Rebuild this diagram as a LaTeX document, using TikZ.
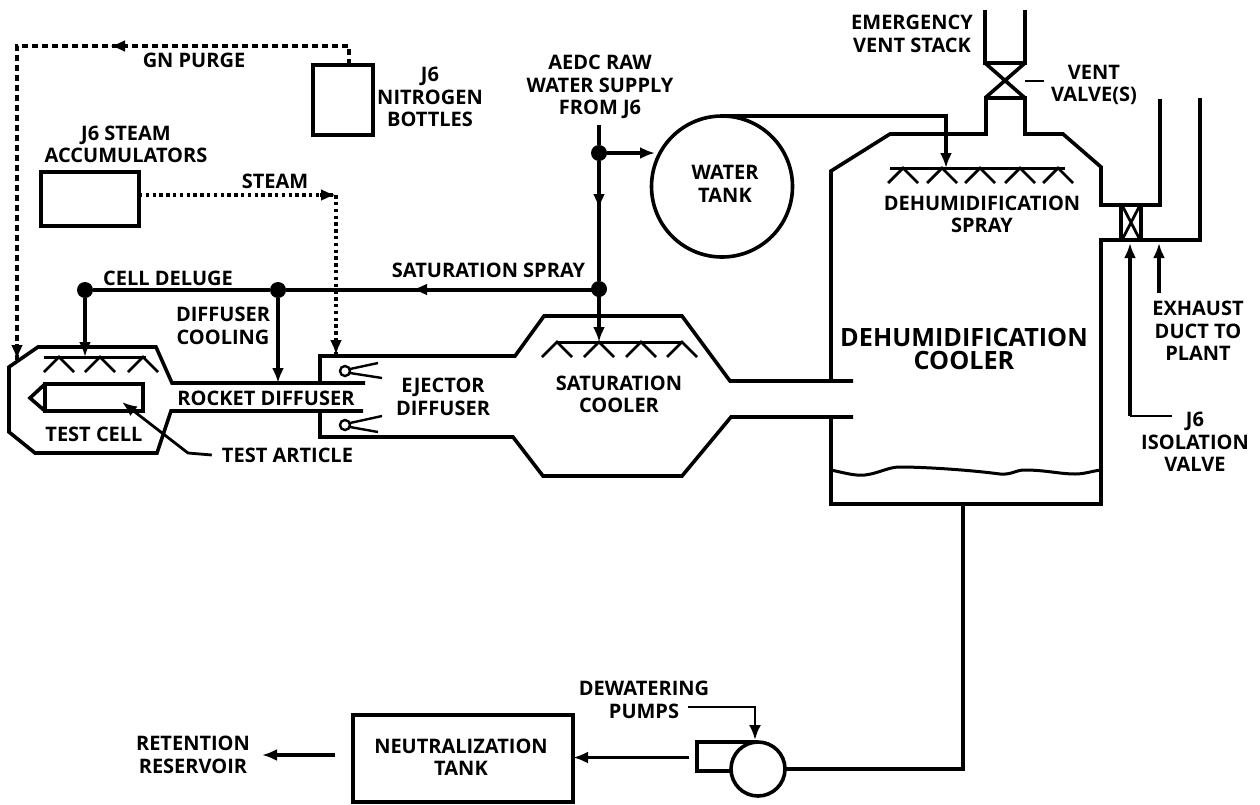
\documentclass[tikz,border=0pt]{standalone}
\usepackage{fontspec}
\setmainfont{Open Sans}
\usetikzlibrary{arrows.meta,calc}
\tikzset{
  x=1pt,y=-1pt,
  tip/.style={-{Latex[length=15pt,width=12pt]}},
  wall/.style={line width=3.6pt,line join=miter},
  flow/.style={line width=3.2pt,tip},
  plainflow/.style={line width=3.2pt},
  leader/.style={line width=2.8pt},
  purge/.style={line width=3.2pt,dash pattern=on 6pt off 4pt},
  steamline/.style={line width=3.4pt,dash pattern=on 3.4pt off 3.4pt},
  dot/.style={circle,fill=black,inner sep=0pt,minimum size=16pt},
  lab/.style={font=\fontsize{20}{22.5}\selectfont\bfseries,align=center,inner sep=0pt},
  biglab/.style={font=\fontsize{25.2}{23.5}\selectfont\bfseries,align=center,inner sep=0pt},
  nozzle/.style={line width=2.4pt},
  boxline/.style={draw,line width=3.4pt,inner sep=0pt,outer sep=0pt},
  bar/.style={line width=3pt},
}
\newcommand{\sprayhead}[2]{%
  \draw[line width=2.8pt] (#1-15,#2+15) -- (#1,#2) -- (#1+15,#2+15);}
\begin{document}
\begin{tikzpicture}
\useasboundingbox (0,0) rectangle (1260,804);
% ---- labels
\node[lab] (gnpurge) at (194,60) {GN PURGE};
\node[lab] (nbottles) at (430,97) {J6\\NITROGEN\\BOTTLES};
\node[lab] (accum) at (126,144.5) {J6 STEAM\\ACCUMULATORS};
\node[lab] (steam) at (275,181) {STEAM};
\node[lab] (rawwater) at (600,87) {AEDC RAW\\WATER SUPPLY\\FROM J6};
\node[lab] (watertank) at (725,184) {WATER\\TANK};
\node[lab] (ventstack) at (912,34) {EMERGENCY\\VENT STACK};
\node[lab] (ventvalve) at (1094,85) {VENT\\VALVE(S)};
\node[lab] (dspray) at (982,214.5) {DEHUMIDIFICATION\\SPRAY};
\node[lab] (celldeluge) at (168,278) {CELL DELUGE};
\node[lab] (satspray) at (488.5,270) {SATURATION SPRAY};
\node[lab] (diffcool) at (223,326) {DIFFUSER\\COOLING};
\node[lab] (ejector) at (443,397) {EJECTOR\\DIFFUSER};
\node[lab] (satcooler) at (619,394.5) {SATURATION\\COOLER};
\node[biglab] (dcooler) at (964,349) {DEHUMIDIFICATION\\COOLER};
\node[lab] (exhaust) at (1198,331) {EXHAUST\\DUCT TO\\PLANT};
\node[lab] (isolation) at (1195,442) {J6\\ISOLATION\\VALVE};
\node[lab] (rocket) at (266,398) {ROCKET DIFFUSER};
\node[lab] (testcell) at (94,434) {TEST CELL};
\node[lab] (testarticle) at (287.5,455) {TEST ARTICLE};
\node[lab] (dewater) at (644,700) {DEWATERING\\PUMPS};
\node[lab] (neutral) at (461,757) {NEUTRALIZATION\\TANK};
\node[lab] (retention) at (193,755) {RETENTION\\RESERVOIR};
% ---- boxes
\node[boxline,minimum width=60pt,minimum height=70pt] (bottles) at (343,100) {};
\node[boxline,minimum width=98pt,minimum height=54pt] (accumbox) at (90,199) {};
\node[boxline,minimum width=220pt,minimum height=87pt] (ntank) at (463,758.5) {};
\node[boxline,circle,line width=3.6pt,minimum size=141pt] (tank) at (722,186.5) {};
\node[boxline,circle,line width=3.6pt,minimum size=54pt] (pump) at (758,769) {};
% ---- junctions
\node[dot] (jdeluge) at (85,290) {};
\node[dot] (jdiff) at (278,290) {};
\node[dot] (jsat) at (599,289) {};
\node[dot] (jwater) at (599,153) {};
% ---- named free ends
\coordinate (purgeTR) at (349,46);
\coordinate (purgeTL) at (17,46);
\coordinate (purgeEnd) at (17,360);
\coordinate (steamCorner) at (336,195);
\coordinate (steamEnd) at (336,355);
\coordinate (delugeEnd) at (85,357);
\coordinate (diffEnd) at (278,383);
\coordinate (satEnd) at (599,342);
\coordinate (waterTop) at (599,125);
\coordinate (waterIn) at (655,153);
\coordinate (dsCorner) at (946,117);
\coordinate (dsEnd) at (946,168);
% ---- GN purge
\draw[purge] (bottles.north -| purgeTR) -- (purgeTR) -- (purgeTL) -- (purgeEnd);
\draw[flow] (17,344) -- (purgeEnd);
\draw[flow] (126,46) -- (110,46);
% ---- steam
\draw[steamline] (accumbox.east |- steamCorner) -- (steamCorner) -- (steamEnd);
\draw[flow] (320,195) -- (steamCorner);
\draw[flow] (336,340) -- (steamEnd);
% ---- water lines
\draw[plainflow] (waterTop) -- (jwater);
\draw[plainflow] (jwater) -- (jsat);
\draw[flow] (599,192) -- (599,209);
\draw[flow] (jwater) -- (waterIn);
\draw[flow] (jsat) -- (satEnd);
\draw[plainflow] (jsat) |- (jdiff) -- (jdeluge);
\draw[flow] (430,289.5) -- (412,289.5);
\draw[flow] (jdeluge) -- (delugeEnd);
\draw[flow] (jdiff) -- (diffEnd);
\draw[flow] (tank.north) -- (tank.north -| dsCorner) -- (dsEnd);
% ---- test cell / rocket diffuser
\draw[wall] (365,383) -- (172,383) -- (156,347) -- (38,347) -- (9,367) -- (9,432) -- (35,453) -- (157,453) -- (171,411) -- (363,411);
\draw[wall] (45,384) rectangle (143,411);
\draw[wall] (45,384) -- (30,398) -- (45,411);
\draw[leader,tip] (testarticle.west) ++(-10,0) -- (188,453) -- (122,402);
\draw[bar] (44,357) -- (146,357);
\sprayhead{59}{357}\sprayhead{100}{357}\sprayhead{143}{357}
% ---- ejector + saturation cooler
\draw[wall] (320,383) -- (320,356) -- (515,356) -- (544,316) -- (682,316) -- (730,381) -- (853,381);
\draw[wall] (320,411) -- (320,437) -- (513,437) -- (543,476) -- (682,476) -- (731,417) -- (853,417);
\draw[nozzle] (345,371) circle (5);
\draw[nozzle] (350,369) -- (378,363) (350,373) -- (382,378);
\draw[nozzle] (345,425) circle (5);
\draw[nozzle] (350,423) -- (382,416) (350,427) -- (378,432);
\draw[bar] (556,342) -- (682,342);
\sprayhead{557}{342}\sprayhead{599}{342}\sprayhead{641}{342}\sprayhead{682}{342}
% ---- dehumidification cooler
\draw[wall] (831,381) -- (831,171) -- (890,134) -- (986,134) -- (986,98) -- (1025,98) -- (1025,134) -- (1063,134) -- (1101,167) -- (1101,205) -- (1160,205) -- (1160,99);
\draw[wall] (831,417) -- (831,504) -- (1101,504) -- (1101,240) -- (1200,240) -- (1200,98);
\draw[wall] (985,10) -- (985,63) -- (1025,63) -- (1025,10);
\draw[wall] (985,63) -- (1025,98) (1025,63) -- (985,98);
\draw[leader] (1025,81) -- (1044,81);
\draw[wall] (1121,205) rectangle (1141,240);
\draw[line width=2.8pt] (1123,207) -- (1139,238) (1139,207) -- (1123,238);
\draw[bar] (890,168) -- (1065,168);
\foreach \a in {903,942,980,1020,1058}{\sprayhead{\a}{168}}
\draw[line width=3pt] (831,470) .. controls (845,473) and (855,476) .. (865,475) .. controls (880,473) and (888,467) .. (900,467) .. controls (925,467) and (970,470) .. (1000,474) .. controls (1012,475) and (1015,470) .. (1025,470) .. controls (1045,470) and (1060,474) .. (1075,474) .. controls (1085,474) and (1092,471) .. (1101,470);
% ---- valve labels
\coordinate (isoElbow) at (1130,416);
\coordinate (isoTip) at (1130,243);
\coordinate (isoLead) at (1172,416);
\draw[flow] (isoElbow) -- (isoTip);
\draw[leader] (isoLead) -- (isoElbow);
\draw[flow] (1159,293) -- (1159,243);
% ---- drain & pump
\coordinate (cbottom) at (963,504);
\coordinate (pumpBoxTL) at (697,742);
\coordinate (pumpBoxBL) at (697,771);
\coordinate (pumpBoxBR) at (732,771);
\draw[plainflow] (cbottom) -- (cbottom |- pump.east) -- (pump.east);
\draw[line width=3.2pt] (pump.north) -- (pumpBoxTL) -- (pumpBoxBL) -- (pumpBoxBR);
\coordinate (pumpOut) at (689,757.5);
\draw[flow] (pumpOut) -- (pumpOut -| ntank.east);
\draw[leader,tip] (688,707) -- (755,707) -- (755,740);
\coordinate (retOut) at (335,755);
\draw[flow] (retOut) -- (262,755);
\end{tikzpicture}
\end{document}
